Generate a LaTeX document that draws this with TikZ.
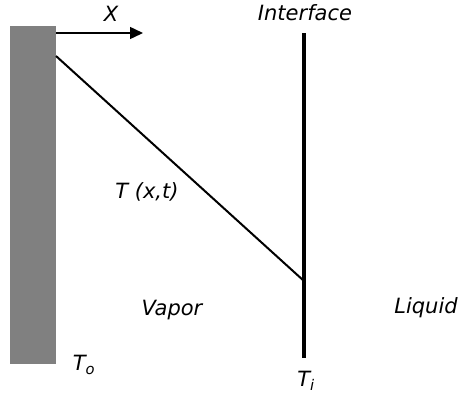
\documentclass[tikz,border=0pt]{standalone}
\usepackage{fontspec}
\setmainfont{DejaVu Sans}
\usetikzlibrary{arrows.meta}
\tikzset{
  lbl/.style={inner sep=0pt, font=\fontsize{21}{24}\selectfont\itshape},
}
\begin{document}
\begin{tikzpicture}[x=1pt,y=-1pt]
\useasboundingbox (0,0) rectangle (459,394);
\fill[fill=white] (0,0) rectangle (459,394);
\node[draw=none, fill=black!50, minimum width=46pt, minimum height=338pt, inner sep=0pt, anchor=north west] (wall) at (10,26) {};
\coordinate (xs) at (56,33);
\coordinate (xe) at (143,33);
\draw[line width=1.5pt, -{Triangle[length=13pt,width=12pt]}] (xs) -- (xe);
\node[lbl] (xlab) at (111,14) {X};
\coordinate (top) at (304,33);
\coordinate (bot) at (304,358);
\coordinate (ws) at (56,56);
\coordinate (ti) at (304,281);
\draw[line width=3.5pt] (top) -- (bot);
\draw[line width=2pt] (ws) -- (ti);
\node[lbl] (iface) at (305,13) {Interface};
\node[lbl] (txt) at (147,192) {T (x,t)};
\node[lbl] (vap) at (172,310) {Vapor};
\node[lbl] (liq) at (426,308) {Liquid};
\node[lbl] (to) at (84,365) {T\textsubscript{o}};
\node[lbl] (tii) at (306,381) {T\textsubscript{i}};
\end{tikzpicture}
\end{document}
